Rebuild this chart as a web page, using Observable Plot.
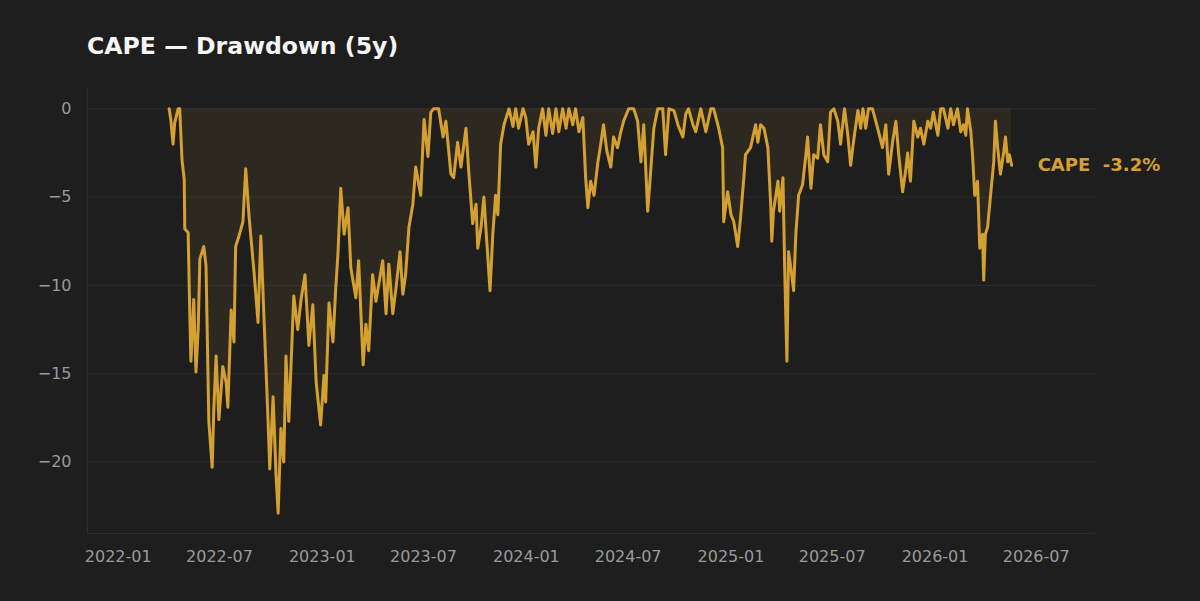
<!DOCTYPE html>
<html>
<head>
<meta charset="utf-8">
<script src="https://cdn.jsdelivr.net/npm/d3@7"></script>
<script src="https://cdn.jsdelivr.net/npm/@observablehq/plot@0.6"></script>
<style>
  html, body { margin: 0; padding: 0; background: #1e1e1e; width: 1200px; height: 601px; overflow: hidden; }
  #title { position: absolute; left: 87px; top: 32px; font-family: "DejaVu Sans", sans-serif; font-weight: bold; font-size: 23.6px; color: #f5f5f5; white-space: pre; }
  #chart { position: absolute; left: 0; top: 70px; }
  svg text { white-space: pre; }
</style>
</head>
<body>
<div id="title">CAPE — Drawdown (5y)</div>
<div id="chart"></div>
<script>
const seriesName = "CAPE";
const dates = [
"2022-04-02","2022-04-05","2022-04-09","2022-04-12","2022-04-18","2022-04-21","2022-04-25","2022-04-29","2022-04-30","2022-05-06",
"2022-05-09","2022-05-11","2022-05-16","2022-05-20","2022-05-24","2022-05-27","2022-06-03","2022-06-07","2022-06-12","2022-06-18",
"2022-06-21","2022-06-25","2022-06-30","2022-07-07","2022-07-13","2022-07-16","2022-07-22","2022-07-27","2022-07-30","2022-08-05",
"2022-08-12","2022-08-17","2022-08-23","2022-09-01","2022-09-08","2022-09-13","2022-09-19","2022-09-26","2022-09-29","2022-10-05",
"2022-10-10","2022-10-14","2022-10-19","2022-10-24","2022-10-28","2022-11-02","2022-11-11","2022-11-18","2022-11-24","2022-12-01",
"2022-12-08","2022-12-15","2022-12-21","2022-12-29","2023-01-04","2023-01-07","2023-01-13","2023-01-20","2023-01-25","2023-01-29",
"2023-02-03","2023-02-09","2023-02-16","2023-02-21","2023-03-02","2023-03-07","2023-03-15","2023-03-20","2023-03-25","2023-04-01",
"2023-04-07","2023-04-19","2023-04-25","2023-04-30","2023-05-07","2023-05-13","2023-05-20","2023-05-25","2023-05-30","2023-06-05",
"2023-06-12","2023-06-17","2023-06-26","2023-07-02","2023-07-09","2023-07-14","2023-07-19","2023-07-28","2023-08-05","2023-08-10",
"2023-08-19","2023-08-24","2023-08-31","2023-09-06","2023-09-15","2023-09-20","2023-09-27","2023-10-03","2023-10-06","2023-10-12",
"2023-10-17","2023-10-24","2023-10-28","2023-11-02","2023-11-07","2023-11-11","2023-11-16","2023-11-22","2023-12-01","2023-12-08",
"2023-12-13","2023-12-18","2023-12-26","2023-12-31","2024-01-05","2024-01-13","2024-01-18","2024-01-23","2024-01-30","2024-02-05",
"2024-02-10","2024-02-17","2024-02-23","2024-02-28","2024-03-06","2024-03-12","2024-03-17","2024-03-24","2024-03-29","2024-04-04",
"2024-04-11","2024-04-16","2024-04-20","2024-04-25","2024-05-01","2024-05-08","2024-05-13","2024-05-18","2024-05-24","2024-05-31",
"2024-06-05","2024-06-12","2024-06-18","2024-06-23","2024-07-02","2024-07-11","2024-07-18","2024-07-24","2024-07-29","2024-08-05",
"2024-08-10","2024-08-16","2024-08-23","2024-09-01","2024-09-06","2024-09-12","2024-09-21","2024-09-28","2024-10-07","2024-10-12",
"2024-10-17","2024-10-25","2024-10-30","2024-11-08","2024-11-17","2024-11-26","2024-12-01","2024-12-10","2024-12-17","2024-12-19",
"2024-12-26","2025-01-01","2025-01-06","2025-01-13","2025-01-18","2025-01-24","2025-01-27","2025-02-05","2025-02-14","2025-02-18",
"2025-02-23","2025-03-01","2025-03-08","2025-03-13","2025-03-15","2025-03-18","2025-03-26","2025-03-29","2025-04-04","2025-04-07",
"2025-04-11","2025-04-14","2025-04-18","2025-04-23","2025-04-27","2025-05-02","2025-05-09","2025-05-15","2025-05-18","2025-05-24",
"2025-05-29","2025-06-05","2025-06-10","2025-06-16","2025-06-23","2025-06-28","2025-07-04","2025-07-11","2025-07-16","2025-07-23",
"2025-07-29","2025-08-03","2025-08-08","2025-08-16","2025-08-21","2025-08-25","2025-08-30","2025-09-04","2025-09-11","2025-09-17",
"2025-09-22","2025-09-29","2025-10-05","2025-10-10","2025-10-17","2025-10-23","2025-10-28","2025-11-04","2025-11-09","2025-11-13",
"2025-11-18","2025-11-24","2025-12-01","2025-12-06","2025-12-12","2025-12-19","2025-12-24","2025-12-29","2026-01-06","2026-01-11",
"2026-01-16","2026-01-24","2026-01-29","2026-02-03","2026-02-10","2026-02-16","2026-02-21","2026-02-25","2026-02-28","2026-03-06",
"2026-03-09","2026-03-13","2026-03-18","2026-03-22","2026-03-27","2026-03-29","2026-04-01","2026-04-05","2026-04-10","2026-04-16",
"2026-04-19","2026-04-23","2026-04-28","2026-05-04","2026-05-07","2026-05-11","2026-05-14","2026-05-18"
];
const drawdown = [
0,-0.6,-2.0,-0.8,0,0,-2.9,-4.0,-6.8,-7.0,
-11.7,-14.3,-10.8,-14.9,-12.5,-8.5,-7.8,-8.9,-17.7,-20.3,
-17.0,-14.0,-17.6,-14.6,-15.5,-16.9,-11.4,-13.2,-7.8,-7.2,
-6.4,-3.4,-6.1,-9.3,-12.1,-7.2,-12.1,-17.7,-20.4,-16.3,
-20.6,-22.9,-18.1,-20.0,-14.0,-17.7,-10.6,-12.5,-10.8,-9.4,
-13.4,-11.1,-15.5,-17.9,-15.1,-16.6,-11.0,-13.2,-10.2,-8.2,
-4.5,-7.1,-5.6,-9.0,-10.7,-8.6,-14.5,-12.2,-13.7,-9.4,
-10.9,-8.6,-11.6,-8.8,-11.6,-10.1,-8.1,-10.5,-9.4,-6.7,
-5.4,-3.3,-4.9,-0.6,-2.7,-0.2,0,0,-1.6,-0.7,
-3.7,-3.9,-1.9,-3.3,-1.1,-3.6,-6.5,-5.4,-7.9,-6.7,
-5.0,-8.4,-10.3,-7.1,-4.9,-6.0,-2.0,-0.9,0,-1.0,
0,-1.1,0,-0.5,-2.0,-1.3,-3.3,-1.1,0,-1.5,
0,-1.4,0,-1.3,0,-1.1,0,-0.9,0,-1.3,
-0.5,-3.9,-5.6,-4.1,-4.9,-3.0,-2.0,-0.9,-2.4,-3.3,
-1.6,-2.2,-1.3,-0.7,0,0,-0.7,-3.0,-0.9,-5.8,
-3.7,-1.1,0,0,-2.6,0,-0.1,-0.9,-1.6,-0.3,
0,-0.9,-1.3,0,-1.3,0,0,-1.1,-2.2,-6.4,
-4.7,-6.0,-6.4,-7.8,-6.2,-3.9,-2.6,-2.2,-0.9,-1.9,
-0.9,-1.1,-2.2,-5.4,-7.5,-5.8,-4.1,-5.8,-3.9,-9.0,
-14.3,-8.1,-9.0,-10.3,-7.1,-4.9,-4.3,-2.6,-1.6,-4.5,
-2.6,-2.8,-0.9,-2.6,-3.0,-0.2,0,-0.7,-2.0,0,
-1.5,-3.2,-1.9,-0.1,-1.1,0,-1.1,0,0,-0.7,
-1.3,-2.2,-0.9,-3.7,-1.9,-0.7,-2.6,-4.7,-3.6,-2.5,
-4.1,-0.7,-1.6,-1.1,-2.0,-0.7,-1.1,-0.2,-1.5,0,
0,-1.1,0,-0.9,0,-1.3,-0.9,-1.5,0,-1.3,
-2.6,-4.9,-4.1,-7.9,-7.1,-9.7,-7.1,-6.7,-5.0,-3.0,
-0.7,-2.2,-3.7,-2.4,-1.6,-3.0,-2.6,-3.2
];
const xTicks = ["2022-01","2022-07","2023-01","2023-07","2024-01","2024-07","2025-01","2025-07","2026-01","2026-07"];
const yTicks = [0, -5, -10, -15, -20];
const xDomain = ["2021-11-07", "2026-10-15"];
const yDomain = [-24.05, 1.15];

const parse = d3.utcParse("%Y-%m-%d");
const parseMonth = d3.utcParse("%Y-%m");
const data = dates.map((d, i) => ({date: parse(d), value: drawdown[i]}));
const last = data[data.length - 1];
const gold = "#d4a032";

const chart = Plot.plot({
  width: 1200,
  height: 531,
  marginTop: 18,
  marginBottom: 68,
  marginLeft: 87,
  marginRight: 105,
  style: {background: "transparent", color: "#9a9a9a", fontFamily: "'DejaVu Sans', sans-serif", fontSize: "16px"},
  x: {type: "utc", domain: xDomain.map(parse), ticks: xTicks.map(parseMonth), tickFormat: d3.utcFormat("%Y-%m"), tickSize: 0, tickPadding: 17, label: null},
  y: {domain: yDomain, ticks: yTicks, tickSize: 0, tickPadding: 16, label: null},
  marks: [
    Plot.ruleY(yTicks, {stroke: "#2c2c2c", strokeWidth: 1}),
    Plot.ruleY([yDomain[0]], {stroke: "#2c2c2c", strokeWidth: 1}),
    Plot.ruleX([parse(xDomain[0])], {stroke: "#2c2c2c", strokeWidth: 1}),
    Plot.areaY(data, {x: "date", y1: 0, y2: "value", fill: gold, fillOpacity: 0.09}),
    Plot.lineY(data, {x: "date", y: "value", stroke: gold, strokeWidth: 3, strokeLinejoin: "round"}),
    Plot.text([last], {x: "date", y: "value", text: d => `${seriesName}  ${d.value.toFixed(1)}%`, dx: 26, textAnchor: "start", fill: gold, fontWeight: "bold", fontSize: 18})
  ]
});
document.getElementById("chart").appendChild(chart);
</script>
</body>
</html>
